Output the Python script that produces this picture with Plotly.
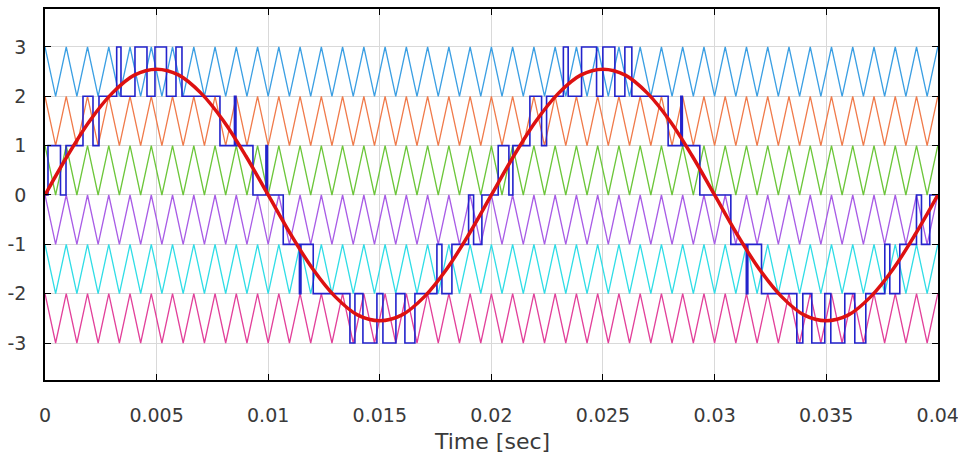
import plotly.graph_objects as go

# ---------------- data ----------------
# carrier vertices (ms): times where every carrier sits at the top / bottom of its band
carrier_peak_ms = [0, 0.952, 1.905, 2.857, 3.810, 4.762, 5.714, 6.667, 7.619, 8.571,
                   9.524, 10.476, 11.429, 12.381, 13.333, 14.286, 15.238, 16.190, 17.143,
                   18.095, 19.048, 20.000, 20.952, 21.905, 22.857, 23.810, 24.762, 25.714,
                   26.667, 27.619, 28.571, 29.524, 30.476, 31.429, 32.381, 33.333, 34.286,
                   35.238, 36.190, 37.143, 38.095, 39.048, 40.000]
carrier_trough_ms = [0.476, 1.429, 2.381, 3.333, 4.286, 5.238, 6.190, 7.143, 8.095, 9.048,
                     10.000, 10.952, 11.905, 12.857, 13.810, 14.762, 15.714, 16.667, 17.619,
                     18.571, 19.524, 20.476, 21.429, 22.381, 23.333, 24.286, 25.238, 26.190,
                     27.143, 28.095, 29.048, 30.000, 30.952, 31.905, 32.857, 33.810, 34.762,
                     35.714, 36.667, 37.619, 38.571, 39.524]
carrier_band_bottom = [2, 1, 0, -1, -2, -3]
carrier_colors = ["#3b9fe3", "#f07a4a", "#6cc63a", "#a85ce6", "#2fdde6", "#e2409a"]

# reference sine (read every 1 ms)
ref_t_ms = list(range(0, 41))
ref_val = [0, 0.79, 1.50, 2.06, 2.43, 2.55, 2.43, 2.06, 1.50, 0.79,
           0, -0.79, -1.50, -2.06, -2.43, -2.55, -2.43, -2.06, -1.50, -0.79,
           0, 0.79, 1.50, 2.06, 2.43, 2.55, 2.43, 2.06, 1.50, 0.79,
           0, -0.79, -1.50, -2.06, -2.43, -2.55, -2.43, -2.06, -1.50, -0.79, 0]

# multilevel output: switching instants (s) and level held after each instant
pwm_t = [0, 0.000134, 0.000694, 0.000941, 0.001702, 0.002150, 0.002419,
         0.003212, 0.003404, 0.004031, 0.004569, 0.004927, 0.005442, 0.005868, 0.006137,
         0.007839, 0.008488, 0.008555, 0.009317, 0.009899, 0.009966,
         0.010674, 0.011400, 0.011467, 0.012018,
         0.013662, 0.013886, 0.014244, 0.014871, 0.015140, 0.015722, 0.016125, 0.016573,
         0.017559, 0.017783, 0.018231, 0.018979, 0.019203, 0.019574,
         0.020305, 0.020784, 0.020963, 0.021725, 0.022249, 0.022473,
         0.023225, 0.023440, 0.024040, 0.024712, 0.024994, 0.025532, 0.025980, 0.026293,
         0.027919, 0.028488, 0.028555, 0.029339,
         0.030728, 0.031422, 0.031489, 0.032103,
         0.033684, 0.033953, 0.034356, 0.034938, 0.035207, 0.035834, 0.036282, 0.036775,
         0.037626, 0.037850, 0.038298, 0.039046, 0.039270, 0.039642, 0.040000]
pwm_level = [0, 1, 0, 1, 2, 1, 2,
             3, 2, 3, 2, 3, 2, 3, 2,
             1, 2, 1, 0, 1, 0,
             -1, -2, -1, -2,
             -3, -2, -3, -2, -3, -2, -3, -2,
             -1, -2, -1, 0, -1, 0,
             1, 0, 1, 2, 1, 2,
             3, 2, 3, 2, 3, 2, 3, 2,
             1, 2, 1, 0,
             -1, -2, -1, -2,
             -3, -2, -3, -2, -3, -2, -3, -2,
             -1, -2, -1, 0, -1, 0, 0]

x_tick_vals = [0, 0.005, 0.01, 0.015, 0.02, 0.025, 0.03, 0.035, 0.04]
x_tick_text = ["0", "0.005", "0.01", "0.015", "0.02", "0.025", "0.03", "0.035", "0.04"]
y_tick_vals = [-3, -2, -1, 0, 1, 2, 3]
y_tick_text = ["-3", "-2", "-1", "0", "1", "2", "3"]
x_title = "Time [sec]"

# ---------------- figure ----------------
vertices = sorted([(t, 1) for t in carrier_peak_ms] + [(t, 0) for t in carrier_trough_ms])
vt = [v[0] / 1000.0 for v in vertices]

fig = go.Figure()
for base, col in zip(carrier_band_bottom, carrier_colors):
    fig.add_trace(go.Scatter(x=vt, y=[base + v[1] for v in vertices], mode="lines",
                             line=dict(color=col, width=1.3), hoverinfo="skip"))

fig.add_trace(go.Scatter(x=pwm_t, y=pwm_level, mode="lines", line_shape="hv",
                         line=dict(color="#2323cc", width=1.6), hoverinfo="skip"))

fig.add_trace(go.Scatter(x=[t / 1000.0 for t in ref_t_ms], y=ref_val, mode="lines",
                         line_shape="spline",
                         line=dict(color="#dd1111", width=3.5), hoverinfo="skip"))

FONT = "DejaVu Sans, Liberation Sans, Arial, sans-serif"
tickfont = dict(family=FONT, size=19, color="#3a3a3a")
fig.update_layout(
    width=958, height=457,
    margin=dict(l=45, r=20, t=9, b=77, autoexpand=False),
    paper_bgcolor="white", plot_bgcolor="white",
    showlegend=False,
    xaxis=dict(range=[0, 0.04001], tickvals=x_tick_vals, ticktext=x_tick_text,
               automargin=False, ticklabeloverflow="allow",
               showgrid=True, gridcolor="#d9d9d9", gridwidth=1, zeroline=False,
               showline=True, linecolor="black", linewidth=1.5, mirror="allticks",
               ticks="inside", ticklen=6, tickcolor="black", tickfont=tickfont,
               ticklabelstandoff=17),
    yaxis=dict(range=[-3.75, 3.77], tickvals=y_tick_vals, ticktext=y_tick_text,
               automargin=False,
               showgrid=True, gridcolor="#d9d9d9", gridwidth=1, zeroline=False,
               showline=True, linecolor="black", linewidth=1.5, mirror="allticks",
               ticks="inside", ticklen=6, tickcolor="black", tickfont=tickfont,
               ticklabelstandoff=13),
    annotations=[dict(text=x_title, xref="paper", yref="paper", x=0.5, y=-0.165,
                      xanchor="center", yanchor="middle", showarrow=False,
                      font=dict(family=FONT, size=22, color="#3a3a3a"))],
)

fig.write_html("out.html", config={"displayModeBar": False},
               post_script="document.body.style.margin='0';document.body.style.overflow='hidden';")
